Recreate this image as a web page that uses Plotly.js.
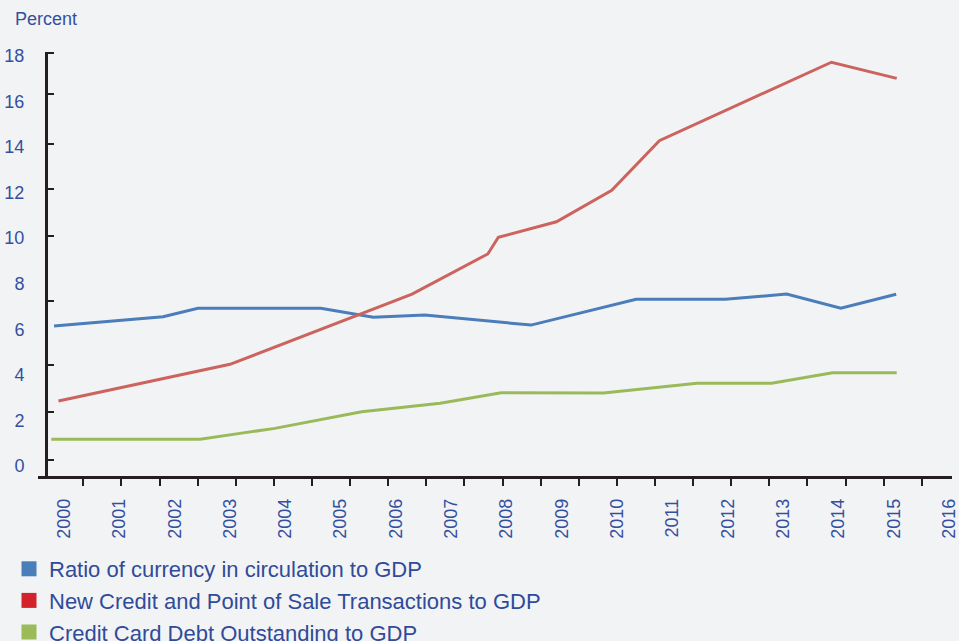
<!DOCTYPE html>
<html>
<head>
<meta charset="utf-8">
<script src="https://cdn.plot.ly/plotly-3.0.1.min.js"></script>
<style>
html,body{margin:0;padding:0;background:#f2f3f5;}
#chart{width:959px;height:641px;}
</style>
</head>
<body>
<div id="chart"></div>
<script>
// Series (x = position in years)
const currencyX = [1999.82, 2001.79, 2002.42, 2004.64, 2005.59, 2006.52, 2008.44, 2010.34, 2011.95, 2013.06, 2014.04, 2015.04];
const currencyY = [6.14, 6.55, 6.92, 6.92, 6.52, 6.62, 6.18, 7.31, 7.31, 7.54, 6.92, 7.53];

const creditX = [1999.90, 2003.00, 2006.29, 2007.66, 2007.85, 2008.90, 2009.90, 2010.76, 2013.87, 2015.05];
const creditY = [2.85, 4.46, 7.54, 9.30, 10.03, 10.71, 12.09, 14.27, 17.71, 17.00];

const debtX = [1999.77, 2002.46, 2003.18, 2003.81, 2005.38, 2006.80, 2007.90, 2009.75, 2011.44, 2012.79, 2013.89, 2015.05];
const debtY = [1.17, 1.17, 1.43, 1.65, 2.38, 2.75, 3.21, 3.20, 3.63, 3.63, 4.09, 4.09];

const yearTicks = [2000,2001,2002,2003,2004,2005,2006,2007,2008,2009,2010,2011,2012,2013,2014,2015,2016];
const yearLabels = yearTicks.map(String);
const percentTicks = [0,2,4,6,8,10,12,14,16,18];
const percentLabels = percentTicks.map(String);

const seriesNames = [
  'Ratio of currency in circulation to GDP',
  'New Credit and Point of Sale Transactions to GDP',
  'Credit Card Debt Outstanding to GDP'
];
const lineColors = ['#4a7dba', '#cc635e', '#9aba5a'];
const legendColors = ['#4a7ebb', '#d4222b', '#9bbb59'];

// tick marks of the original drawing (not aligned to labels)
const xMinorTicks = Array.from({length: 23}, (_, k) => 2000.349 + k * 0.6888);
const yMinorTicks = [0.26, 2.37, 4.43, 7.24, 10.10, 12.15, 14.12, 16.32, 18.10];

const textBlue = '#33509f';
const axisCol = '#231f20';
const font = 'Liberation Sans, Arial, sans-serif';

const xs = [currencyX, creditX, debtX];
const ys = [currencyY, creditY, debtY];
const traces = [];
for (let i = 0; i < 3; i++) {
  traces.push({
    x: xs[i], y: ys[i], type: 'scatter', mode: 'lines',
    line: {color: lineColors[i], width: 3},
    showlegend: false, hoverinfo: 'skip'
  });
}
for (let i = 0; i < 3; i++) {
  traces.push({
    x: [null], y: [null], type: 'scatter', mode: 'markers',
    name: seriesNames[i],
    marker: {symbol: 'square', size: 15, color: legendColors[i]},
    hoverinfo: 'skip'
  });
}

const layout = {
  width: 959, height: 641,
  margin: {l: 38, r: 7, t: 52, b: 165, autoexpand: false},
  paper_bgcolor: '#f2f3f5', plot_bgcolor: '#f2f3f5',
  font: {family: font, color: textBlue, size: 18},
  title: {text: 'Percent', xref: 'container', yref: 'container',
          x: 15/959, xanchor: 'left', y: 1 - 19/641, yanchor: 'middle',
          font: {family: font, size: 18, color: textBlue}},
  xaxis: {
    range: [1999.530, 2016.049],
    tickmode: 'array', tickvals: yearTicks, ticktext: yearLabels,
    tickangle: -90, ticks: '', ticklabelstandoff: 13,
    ticklabeloverflow: 'allow',
    tickfont: {family: font, size: 18, color: textBlue},
    showline: true, linecolor: axisCol, linewidth: 2.5,
    showgrid: false, zeroline: false, fixedrange: true, automargin: false,
    minor: {tickmode: 'array', tickvals: xMinorTicks, ticks: 'outside',
            ticklen: 7, tickwidth: 2, tickcolor: axisCol, showgrid: false}
  },
  yaxis: {
    range: [-0.439, 18.158],
    anchor: 'free', position: 8/914,
    tickmode: 'array', tickvals: percentTicks, ticktext: percentLabels,
    ticks: '', ticklabelstandoff: 17,
    ticklabeloverflow: 'allow',
    tickfont: {family: font, size: 18, color: textBlue},
    showline: true, linecolor: axisCol, linewidth: 2.5,
    showgrid: false, zeroline: false, fixedrange: true, automargin: false,
    minor: {tickmode: 'array', tickvals: yMinorTicks, ticks: 'inside',
            ticklen: 6, tickwidth: 2, tickcolor: axisCol, showgrid: false}
  },
  showlegend: true,
  legend: {
    xref: 'container', yref: 'container',
    x: 9/959, xanchor: 'left', y: 1 - 548/641, yanchor: 'top',
    orientation: 'v', traceorder: 'normal', tracegroupgap: 0,
    bgcolor: 'rgba(0,0,0,0)',
    font: {family: font, size: 22, color: '#2f4b99'},
    itemclick: false, itemdoubleclick: false
  },
  hovermode: false
};

Plotly.newPlot('chart', traces, layout, {displayModeBar: false, staticPlot: true});
</script>
</body>
</html>
